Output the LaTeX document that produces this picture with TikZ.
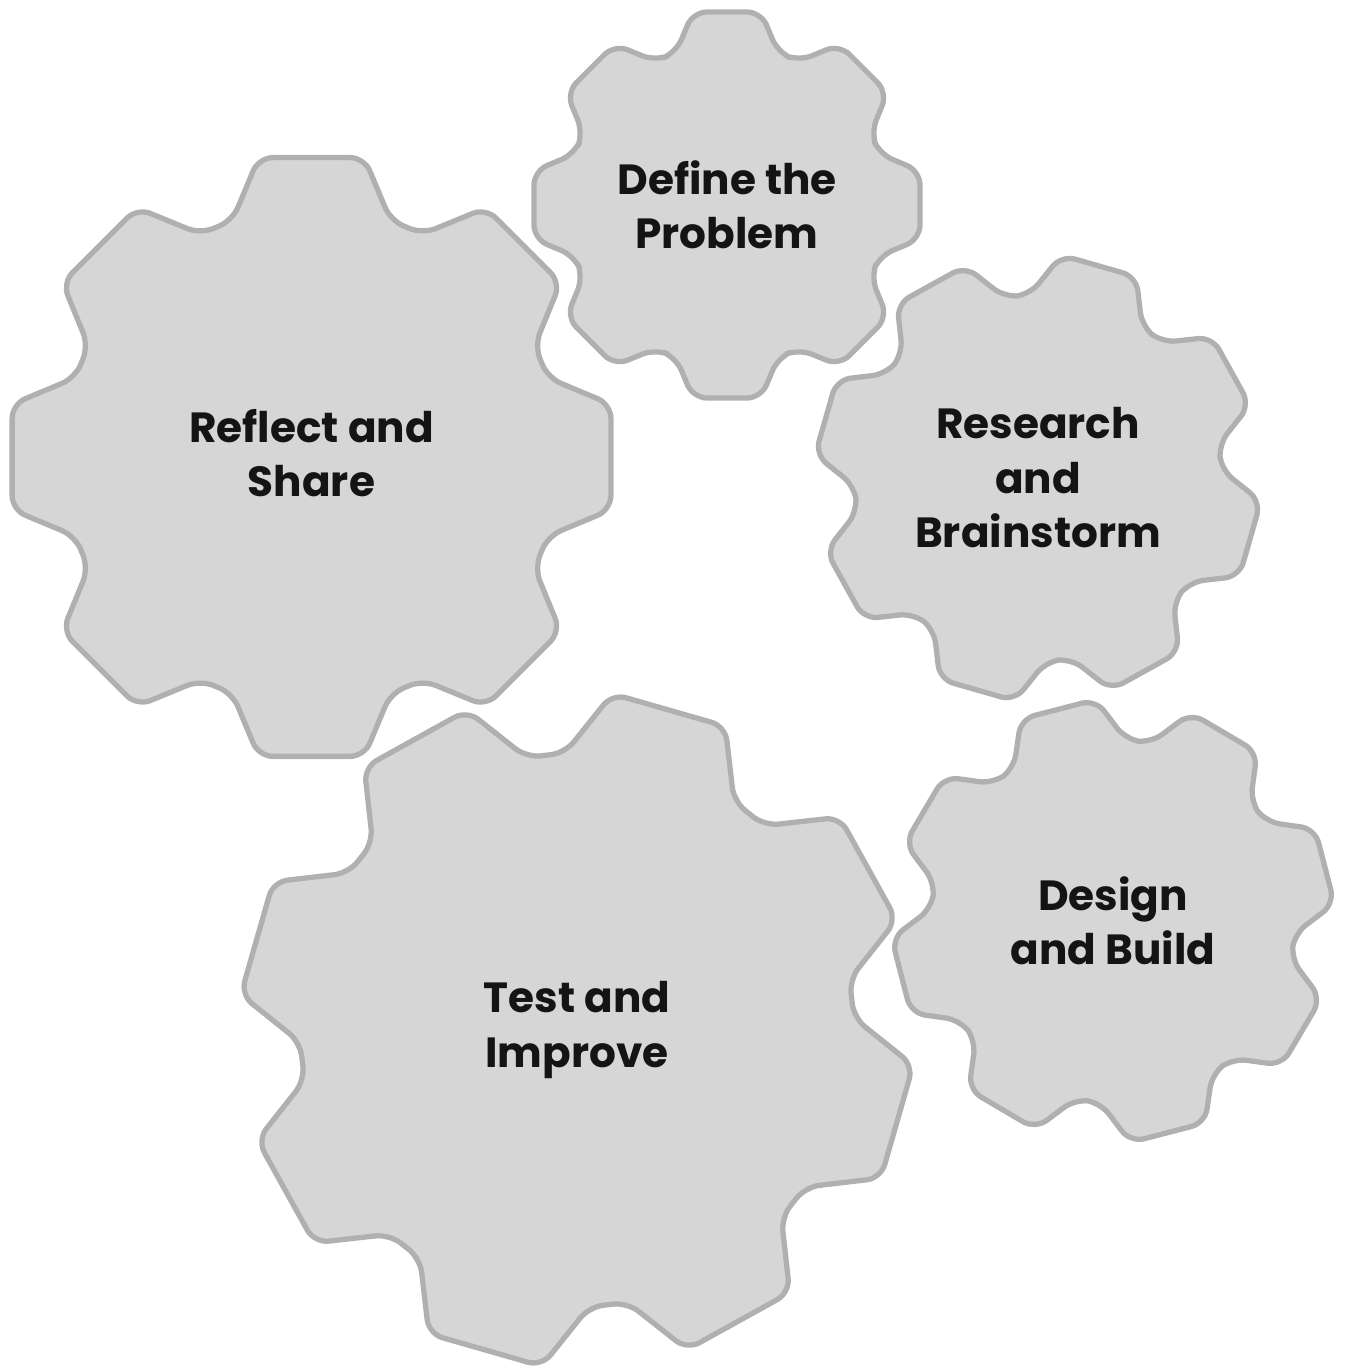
\documentclass[tikz,border=0pt]{standalone}
\usepackage{fontspec}
\setmainfont{Poppins}
\definecolor{gearfill}{RGB}{214,214,214}
\definecolor{gearline}{RGB}{176,176,176}
\tikzset{
  gear/.style={draw=gearline, fill=gearfill, line width=1.5pt, rounded corners=4pt},
  gearlabel/.style={align=center, text=black!92, font=\bfseries\fontsize{12}{15.5}\selectfont}
}
% #1,#2 centre, #3 tip radius, #4 rotation
\newcommand{\gear}[4]{%
  \draw[gear, shift={(#1,#2)}, rotate=#4] (0:{0.985*#3})
    \foreach \a in {0,45,...,315} {-- (\a+10:#3) -- (\a+18.5:{0.82*#3}) -- (\a+26.5:{0.82*#3}) -- (\a+35:#3)} -- cycle;}
\begin{document}
\begin{tikzpicture}[x=0.01cm,y=0.01cm]
    \useasboundingbox (0,0) rectangle (1344,1369);
    % Gears
    \gear{727}{1164}{196}{0}
    \gear{311.5}{912}{304}{0}
    \gear{1038}{891}{224}{-16}
    \gear{1113}{448}{222}{14.5}
    \gear{577}{339}{338}{-16}
    % Labels
    \node[gearlabel] (define) at (727,1164) {Define the\\Problem};
    \node[gearlabel] (reflect) at (311.5,916) {Reflect and\\Share};
    \node[gearlabel] (research) at (1038,891) {Research\\and\\Brainstorm};
    \node[gearlabel] (design) at (1113,448) {Design\\and Build};
    \node[gearlabel] (test) at (577,339) {Test and\\Improve};
\end{tikzpicture}
\end{document}
